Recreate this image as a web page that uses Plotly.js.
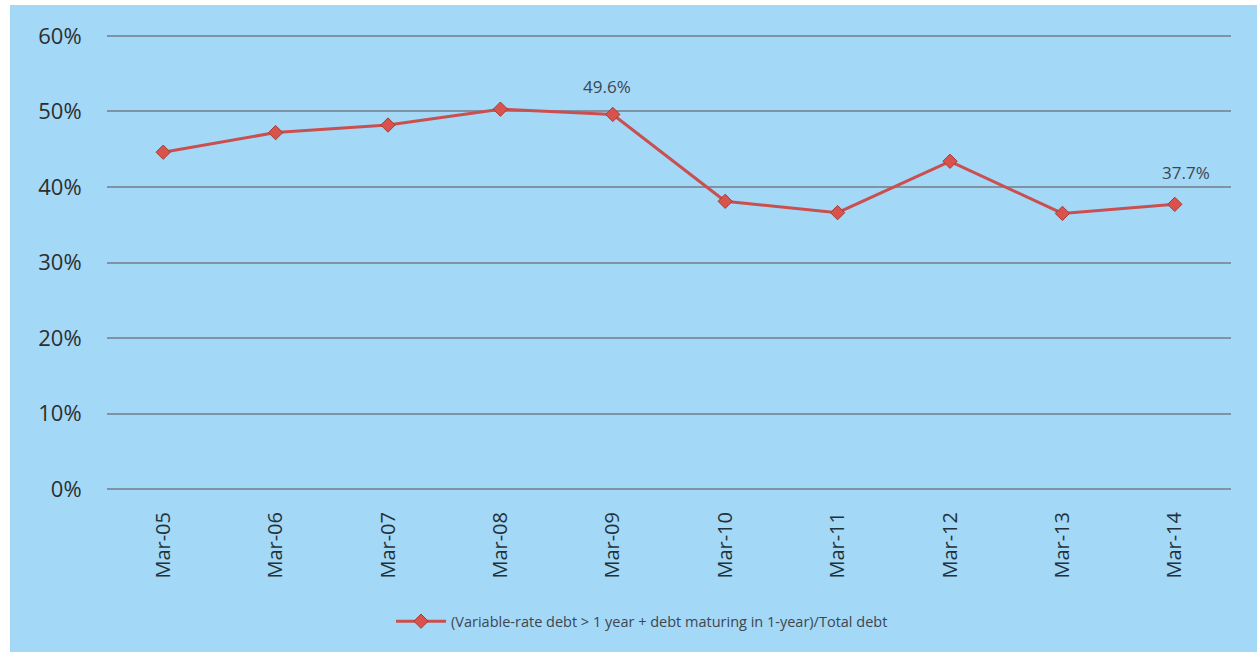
<!DOCTYPE html>
<html>
<head>
<meta charset="utf-8">
<script src="https://cdn.plot.ly/plotly-3.0.1.min.js"></script>
<style>
  html, body { margin: 0; padding: 0; background: #ffffff; width: 1257px; height: 652px; overflow: hidden; }
  #chart { position: absolute; left: 10px; top: 5px; width: 1247px; height: 647px; }
</style>
</head>
<body>
<div id="chart"></div>
<script>
// Share of debt exposed to rate resets, by fiscal year end
const periods = ["Mar-05", "Mar-06", "Mar-07", "Mar-08", "Mar-09", "Mar-10", "Mar-11", "Mar-12", "Mar-13", "Mar-14"];
const ratioPct = [44.6, 47.2, 48.2, 50.3, 49.6, 38.1, 36.6, 43.4, 36.5, 37.7];
const labelledPeriods = ["Mar-09", "Mar-14"];
const yTicks = [0, 10, 20, 30, 40, 50, 60];
const seriesName = "(Variable-rate debt > 1 year + debt maturing in 1-year)/Total debt";

const bg = "#a4d8f7";
const fontFam = "'Open Sans', 'DejaVu Sans', sans-serif";

// per-label nudges for the value callouts
const labelShift = { "Mar-09": { dx: -6, dy: 28 }, "Mar-14": { dx: 11, dy: 32 } };

const line = {
  type: "scatter",
  mode: "lines+markers",
  name: seriesName,
  x: periods,
  y: ratioPct,
  line: { color: "#c9504e", width: 3 },
  marker: { symbol: "diamond", size: 11, color: "#d9534c", line: { color: "#a33c37", width: 1 } },
  hoverinfo: "x+y"
};

const annotations = labelledPeriods.map(p => {
  const i = periods.indexOf(p);
  return {
    x: p,
    y: ratioPct[i],
    xref: "x",
    yref: "y",
    text: ratioPct[i].toFixed(1) + "%",
    showarrow: false,
    xshift: labelShift[p].dx,
    yshift: labelShift[p].dy,
    font: { family: fontFam, size: 17, color: "#3d4650" }
  };
});

const layout = {
  width: 1247,
  height: 647,
  paper_bgcolor: bg,
  plot_bgcolor: bg,
  margin: { l: 97, r: 26, t: 29, b: 161 },
  showlegend: true,
  legend: {
    orientation: "h",
    x: 0.476, xanchor: "center",
    y: -0.285, yanchor: "middle",
    itemwidth: 50,
    font: { family: fontFam, size: 14.5, color: "#3d4650" },
    bgcolor: "rgba(0,0,0,0)"
  },
  annotations: annotations,
  xaxis: {
    type: "category",
    range: [-0.5, periods.length - 0.5],
    tickangle: -90,
    tickfont: { family: fontFam, size: 20, color: "#23323a" },
    showgrid: false,
    zeroline: false,
    showline: false,
    ticks: "outside",
    ticklen: 12,
    tickcolor: "rgba(0,0,0,0)",
    automargin: false
  },
  yaxis: {
    range: [-0.25, 60.25],
    tickvals: yTicks,
    ticktext: yTicks.map(v => v + "%"),
    tickfont: { family: fontFam, size: 22, color: "#2e2e2e" },
    showgrid: true,
    gridcolor: "#7f93a4",
    gridwidth: 2,
    zeroline: false,
    showline: false,
    ticks: "outside",
    ticklen: 20,
    tickcolor: "rgba(0,0,0,0)",
    automargin: false,
    fixedrange: true
  }
};

Plotly.newPlot("chart", [line], layout, { displayModeBar: false, staticPlot: true });
</script>
</body>
</html>
